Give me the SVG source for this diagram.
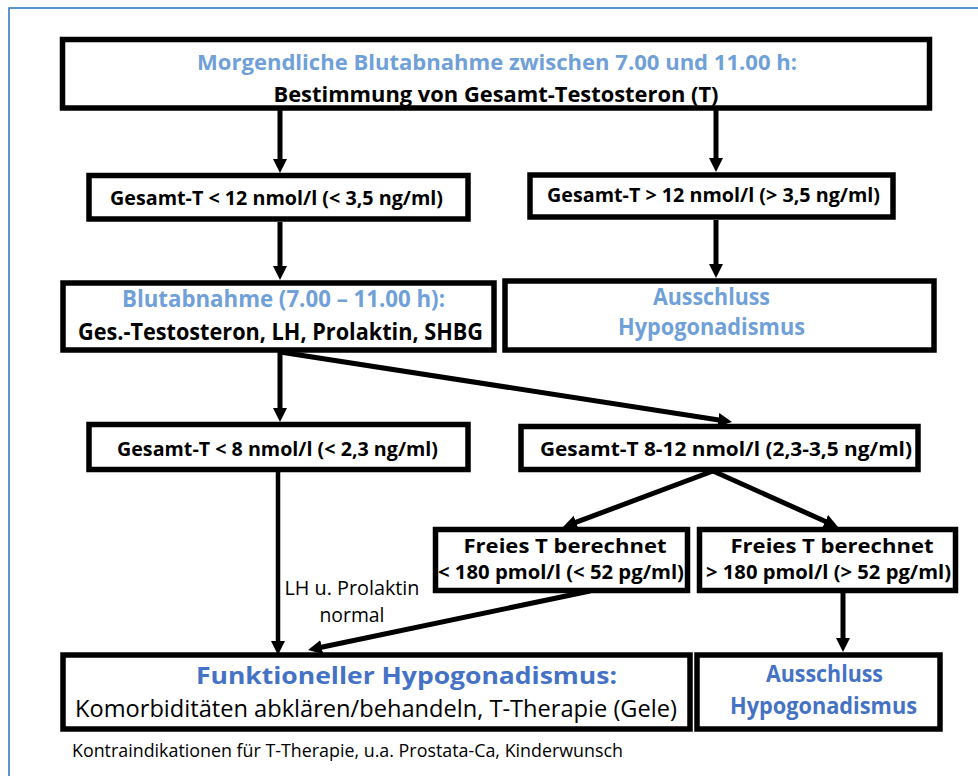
<svg xmlns="http://www.w3.org/2000/svg" width="978" height="776" viewBox="0 0 978 776">
<style>
.box{fill:#fff;stroke:#000;stroke-width:5.5}
.b{font-family:"Open Sans","Liberation Sans",sans-serif;font-weight:bold;fill:#000}
.r{font-family:"Open Sans","Liberation Sans",sans-serif;font-weight:normal;fill:#000}
.lb{fill:#6fa0d8}
.db{fill:#4472c4}
.c{stroke:#000;stroke-width:5;fill:none}
</style>
<defs>
<marker id="ah" markerUnits="userSpaceOnUse" markerWidth="16" markerHeight="16" refX="4" refY="7" orient="auto">
<path d="M0,0 L14,7 L0,14 z" fill="#000"/>
</marker>
</defs>
<rect x="0" y="0" width="978" height="776" fill="#fff"/>
<rect x="9" y="8" width="1000" height="800" fill="none" stroke="#2a6fc4" stroke-width="1.5"/>

<g id="connectors">
<line class="c" x1="280" y1="110" x2="280" y2="163" marker-end="url(#ah)"/>
<line class="c" x1="716" y1="110" x2="716" y2="162" marker-end="url(#ah)"/>
<line class="c" x1="280" y1="222" x2="280" y2="270" marker-end="url(#ah)"/>
<line class="c" x1="716" y1="220" x2="716" y2="268" marker-end="url(#ah)"/>
<line class="c" x1="280" y1="352" x2="280" y2="412" marker-end="url(#ah)"/>
<line class="c" x1="280" y1="352" x2="722.1" y2="420.5" marker-end="url(#ah)"/>
<line class="c" x1="713" y1="471" x2="572.4" y2="523.6" marker-end="url(#ah)"/>
<line class="c" x1="713" y1="471" x2="828.9" y2="523" marker-end="url(#ah)"/>
<line class="c" x1="278" y1="471" x2="278" y2="645" marker-end="url(#ah)" style="stroke-width:4.5"/>
<line class="c" x1="590" y1="591" x2="317.8" y2="648" marker-end="url(#ah)"/>
<line class="c" x1="843" y1="592" x2="843" y2="642" marker-end="url(#ah)"/>
<text class="r" x="352" y="595" font-size="19.5" text-anchor="middle" textLength="135" lengthAdjust="spacingAndGlyphs">LH u. Prolaktin</text>
<text class="r" x="352" y="622" font-size="19.5" text-anchor="middle" textLength="65" lengthAdjust="spacingAndGlyphs">normal</text>
</g>

<g id="n-start">
<rect class="box" x="62.5" y="39.5" width="867" height="68.5"/>
<text class="b lb" x="497" y="70" font-size="22" text-anchor="middle" textLength="600" lengthAdjust="spacingAndGlyphs">Morgendliche Blutabnahme zwischen 7.00 und 11.00 h:</text>
<text class="b" x="496" y="102" font-size="22" text-anchor="middle" textLength="445" lengthAdjust="spacingAndGlyphs">Bestimmung von Gesamt-Testosteron (T)</text>
</g>

<g id="n-lt12">
<rect class="box" x="89" y="175.5" width="379" height="43.5"/>
<text class="b" x="276.5" y="205" font-size="19" text-anchor="middle" textLength="333" lengthAdjust="spacingAndGlyphs">Gesamt-T &lt; 12 nmol/l (&lt; 3,5 ng/ml)</text>
</g>

<g id="n-gt12">
<rect class="box" x="530" y="175" width="363" height="42"/>
<text class="b" x="713.5" y="202" font-size="19" text-anchor="middle" textLength="333" lengthAdjust="spacingAndGlyphs">Gesamt-T &gt; 12 nmol/l (&gt; 3,5 ng/ml)</text>
</g>

<g id="n-blut">
<rect class="box" x="63" y="283" width="431" height="67"/>
<text class="b lb" x="283.5" y="307" font-size="22.5" text-anchor="middle" textLength="323" lengthAdjust="spacingAndGlyphs">Blutabnahme (7.00 – 11.00 h):</text>
<text class="b" x="280.5" y="340" font-size="22.5" text-anchor="middle" textLength="405" lengthAdjust="spacingAndGlyphs">Ges.-Testosteron, LH, Prolaktin, SHBG</text>
</g>

<g id="n-aus1">
<rect class="box" x="505" y="281" width="429" height="69"/>
<text class="b lb" x="711.5" y="305" font-size="22.5" text-anchor="middle" textLength="117" lengthAdjust="spacingAndGlyphs">Ausschluss</text>
<text class="b lb" x="711.5" y="335" font-size="22.5" text-anchor="middle" textLength="187" lengthAdjust="spacingAndGlyphs">Hypogonadismus</text>
</g>

<g id="n-lt8">
<rect class="box" x="89" y="424.5" width="379" height="45"/>
<text class="b" x="277.5" y="456" font-size="19" text-anchor="middle" textLength="321" lengthAdjust="spacingAndGlyphs">Gesamt-T &lt; 8 nmol/l (&lt; 2,3 ng/ml)</text>
</g>

<g id="n-8to12">
<rect class="box" x="521" y="426.5" width="397" height="43"/>
<text class="b" x="726" y="456" font-size="19" text-anchor="middle" textLength="372" lengthAdjust="spacingAndGlyphs">Gesamt-T 8-12 nmol/l (2,3-3,5 ng/ml)</text>
</g>

<g id="n-free-lt">
<rect class="box" x="435.5" y="529.5" width="252" height="61"/>
<text class="b" x="565" y="553" font-size="19" text-anchor="middle" textLength="203" lengthAdjust="spacingAndGlyphs">Freies T berechnet</text>
<text class="b" x="561" y="579" font-size="19" text-anchor="middle" textLength="246" lengthAdjust="spacingAndGlyphs">&lt; 180 pmol/l (&lt; 52 pg/ml)</text>
</g>

<g id="n-free-gt">
<rect class="box" x="699.5" y="529.5" width="256" height="61"/>
<text class="b" x="832" y="553" font-size="19" text-anchor="middle" textLength="203" lengthAdjust="spacingAndGlyphs">Freies T berechnet</text>
<text class="b" x="828.5" y="579" font-size="19" text-anchor="middle" textLength="245" lengthAdjust="spacingAndGlyphs">&gt; 180 pmol/l (&gt; 52 pg/ml)</text>
</g>

<g id="n-funk">
<rect class="box" x="63" y="655" width="627" height="74"/>
<text class="b db" x="406.5" y="684" font-size="22.5" text-anchor="middle" textLength="421" lengthAdjust="spacingAndGlyphs">Funktioneller Hypogonadismus:</text>
<text class="r" x="376" y="717" font-size="23" text-anchor="middle" textLength="602" lengthAdjust="spacingAndGlyphs">Komorbiditäten abklären/behandeln, T-Therapie (Gele)</text>
</g>

<g id="n-aus2">
<rect class="box" x="697" y="655" width="243" height="74"/>
<text class="b db" x="824.5" y="682" font-size="22.5" text-anchor="middle" textLength="117" lengthAdjust="spacingAndGlyphs">Ausschluss</text>
<text class="b db" x="823.5" y="714" font-size="22.5" text-anchor="middle" textLength="187" lengthAdjust="spacingAndGlyphs">Hypogonadismus</text>
</g>

<text class="r" x="72" y="757" font-size="19" textLength="551" lengthAdjust="spacingAndGlyphs">Kontraindikationen für T-Therapie, u.a. Prostata-Ca, Kinderwunsch</text>
</svg>
